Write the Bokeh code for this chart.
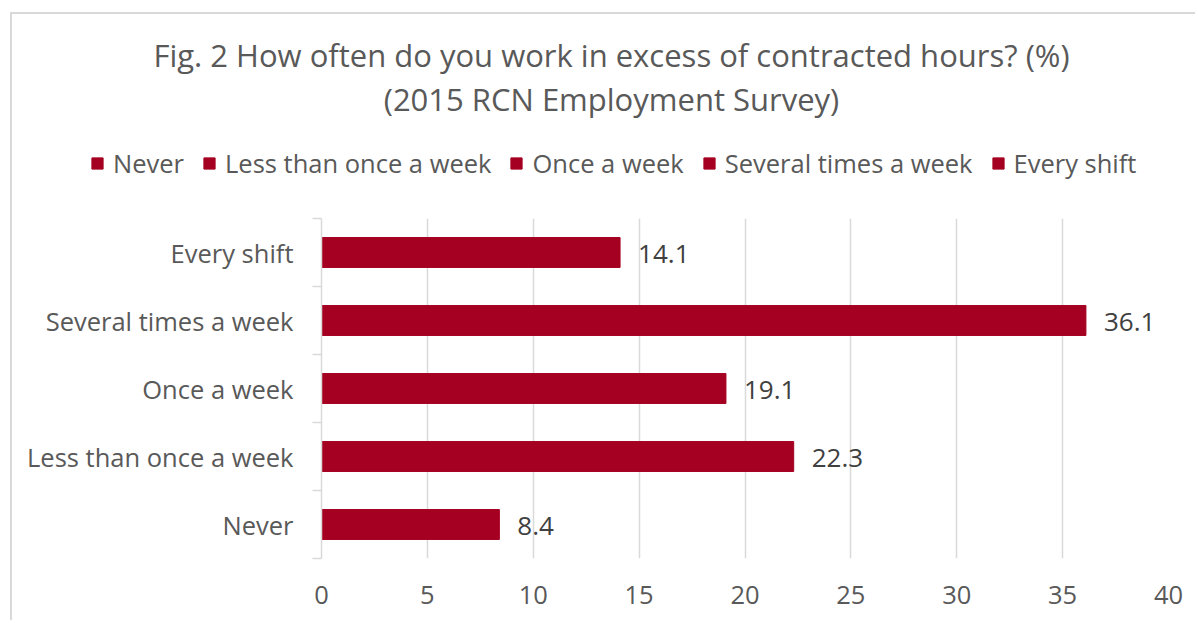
from bokeh.plotting import figure
from bokeh.models import FixedTicker, Legend, LegendItem, Label, ColumnDataSource
from bokeh.embed import file_html
from bokeh.resources import INLINE
from bokeh.core.properties import value

# ---- data ----
categories = ["Never", "Less than once a week", "Once a week",
              "Several times a week", "Every shift"]
percentages = [8.4, 22.3, 19.1, 36.1, 14.1]
x_ticks = [0, 5, 10, 15, 20, 25, 30, 35, 40]
title_line1 = "Fig. 2 How often do you work in excess of contracted hours? (%)"
title_line2 = "(2015 RCN Employment Survey)"

BAR = "#A50021"
TXT = "#595959"
GRID = "#d9d9d9"
FONT = "Open Sans"
FS = "25.5px"

positions = list(range(len(categories)))
boundaries = [i - 0.5 for i in range(len(categories) + 1)]
labels = [f"{v:.1f}" for v in percentages]
src = ColumnDataSource(dict(y=positions, right=percentages, label=labels, cat=categories))

W = 1185
HEAD_H = 186

# ---- header: titles + legend (its frame fills the whole canvas) ----
head = figure(width=W, height=HEAD_H, output_backend="svg", toolbar_location=None,
              x_range=(0, W), y_range=(0, HEAD_H),
              min_border_left=0, min_border_right=0, min_border_top=0, min_border_bottom=0,
              x_axis_location=None, y_axis_location=None, title_location=None)
head.grid.visible = False
head.outline_line_color = None
head.styles = {"margin-left": "10px", "margin-top": "12px",
               "border-left": "2px solid #d9d9d9", "border-top": "2px solid #d9d9d9"}

for txt, ty in ((title_line1, 146), (title_line2, 102)):
    head.add_layout(Label(x=599, y=ty, text=txt, text_align="center", text_baseline="middle",
                          text_font=FONT, text_font_size="31px", text_color=TXT))

hr = head.hbar(y="y", right="right", left=0, height=0.44, source=src,
               fill_color=BAR, line_color=BAR, visible=False)
items = [LegendItem(label=c, renderers=[hr], index=i) for i, c in enumerate(categories)]
legend = Legend(items=items, orientation="horizontal", location=(78, 20),
                label_text_font=FONT, label_text_font_size=FS, label_text_color=TXT,
                glyph_width=14, glyph_height=14, label_height=26, label_standoff=9,
                spacing=18, padding=0, margin=0, border_line_color=None,
                background_fill_alpha=0, inactive_fill_alpha=0)
head.add_layout(legend)

# ---- main chart ----
p = figure(width=W, height=422, output_backend="svg", toolbar_location=None,
           x_range=(0, 40), y_range=(-0.5, len(categories) - 0.5), title_location=None,
           min_border_left=309, min_border_right=29, min_border_top=20, min_border_bottom=62)
p.styles = {"margin-left": "10px", "border-left": "2px solid #d9d9d9"}
p.outline_line_color = None

p.hbar(y="y", right="right", left=0, height=0.44, source=src,
       fill_color=BAR, line_color=BAR)

p.text(x="right", y="y", text="label", source=src, x_offset=18, y_offset=1,
       text_align="left", text_baseline="middle", text_font=value(FONT),
       text_font_size="26px", text_color="#404040")

p.xaxis.ticker = FixedTicker(ticks=x_ticks)
p.xaxis.axis_line_color = None
p.xaxis.major_tick_line_color = None
p.xaxis.minor_tick_line_color = None
p.xaxis.major_label_standoff = 21
p.xaxis.major_label_text_font = FONT
p.xaxis.major_label_text_font_size = FS
p.xaxis.major_label_text_color = TXT

p.yaxis.ticker = FixedTicker(ticks=positions, minor_ticks=boundaries)
p.yaxis.major_label_overrides = {i: c for i, c in zip(positions, categories)}
p.yaxis.axis_line_color = GRID
p.yaxis.axis_line_width = 1.5
p.yaxis.major_tick_line_color = None
p.yaxis.major_tick_out = 0
p.yaxis.major_tick_in = 0
p.yaxis.minor_tick_line_color = GRID
p.yaxis.minor_tick_line_width = 1.5
p.yaxis.minor_tick_out = 9
p.yaxis.minor_tick_in = 0
p.yaxis.major_label_standoff = 19
p.yaxis.major_label_text_font = FONT
p.yaxis.major_label_text_font_size = FS
p.yaxis.major_label_text_color = TXT

p.ygrid.visible = False
p.xgrid.ticker = FixedTicker(ticks=x_ticks)
p.xgrid.grid_line_color = GRID
p.xgrid.grid_line_width = 1.5

open("out.html", "w").write(file_html([head, p], INLINE))
